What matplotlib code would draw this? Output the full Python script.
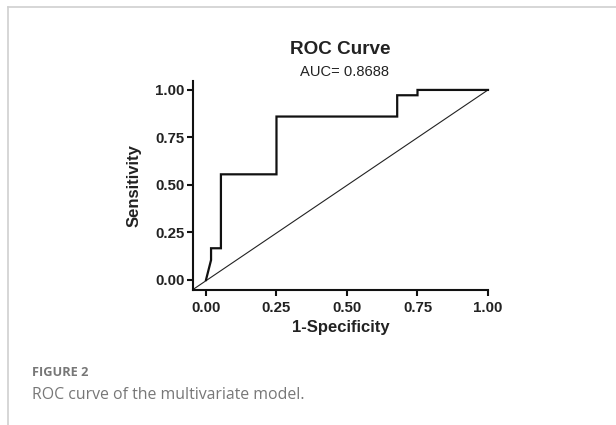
import matplotlib.pyplot as plt
from matplotlib.lines import Line2D

# ROC step curve (1-specificity, sensitivity)
fpr = [0.0, 0.018, 0.018, 0.053, 0.053, 0.25, 0.25, 0.678, 0.678, 0.75, 0.75, 1.0]
tpr = [0.0, 0.105, 0.167, 0.167, 0.556, 0.556, 0.86, 0.86, 0.972, 0.972, 1.0, 1.0]
ticks = [0.0, 0.25, 0.5, 0.75, 1.0]
tick_labels = ["0.00", "0.25", "0.50", "0.75", "1.00"]
auc = 0.8688

plt.rcParams['font.family'] = ['Liberation Sans', 'DejaVu Sans']

fig = plt.figure(figsize=(6.16, 4.25), dpi=100)
ax = fig.add_axes([193 / 616, 1 - 289.5 / 425, 295 / 616, 208.5 / 425])

xmin, ymin = -0.046, -0.05
ax.set_xlim(xmin, 1.0)
ax.set_ylim(ymin, 1.047)

# reference diagonal from the axis corner
ax.plot([xmin, 1.0], [ymin, 1.0], color='#222222', lw=0.8, clip_on=False)
ax.plot(fpr, tpr, color='#111111', lw=1.6, clip_on=False, solid_joinstyle='miter')

for s in ['top', 'right']:
    ax.spines[s].set_visible(False)
for s in ['left', 'bottom']:
    ax.spines[s].set_linewidth(1.5)
    ax.spines[s].set_color('#111111')

ax.set_xticks(ticks)
ax.set_xticklabels(tick_labels)
ax.set_yticks(ticks)
ax.set_yticklabels(tick_labels)
ax.tick_params(direction='out', length=4, width=1.5, color='#111111', labelsize=10.8)
ax.tick_params(axis='x', pad=4)
ax.tick_params(axis='y', pad=2)
for lab in ax.get_xticklabels() + ax.get_yticklabels():
    lab.set_fontweight('bold')
    lab.set_color('#222222')

ax.set_xlabel('1-Specificity', fontsize=12, fontweight='bold', color='#222222', labelpad=4)
ax.set_ylabel('Sensitivity', fontsize=12, fontweight='bold', color='#222222', labelpad=10)

fig.text(340 / 616, 1 - 50 / 425, 'ROC Curve', ha='center', va='center',
         fontsize=13.6, fontweight='bold', color='#222222')
fig.text(345 / 616, 1 - 72 / 425, f'AUC= {auc}', ha='center', va='center',
         fontsize=10.6, color='#222222')

# page frame lines
fig.add_artist(Line2D([8 / 616, 1], [1 - 7 / 425, 1 - 7 / 425], color='#d0d0d0', lw=1.2))
fig.add_artist(Line2D([8 / 616, 8 / 616], [0, 1 - 7 / 425], color='#d0d0d0', lw=1.2))

fig.text(32 / 616, 1 - 373 / 425, 'FIGURE 2', ha='left', va='center',
         fontsize=9.2, fontweight='bold', color='#777777', family=['Open Sans', 'DejaVu Sans'])
fig.text(32 / 616, 1 - 395 / 425, 'ROC curve of the multivariate model.', ha='left', va='center',
         fontsize=11.4, color='#777777', family=['Open Sans', 'DejaVu Sans'])

fig.savefig('out.png', dpi=100)
